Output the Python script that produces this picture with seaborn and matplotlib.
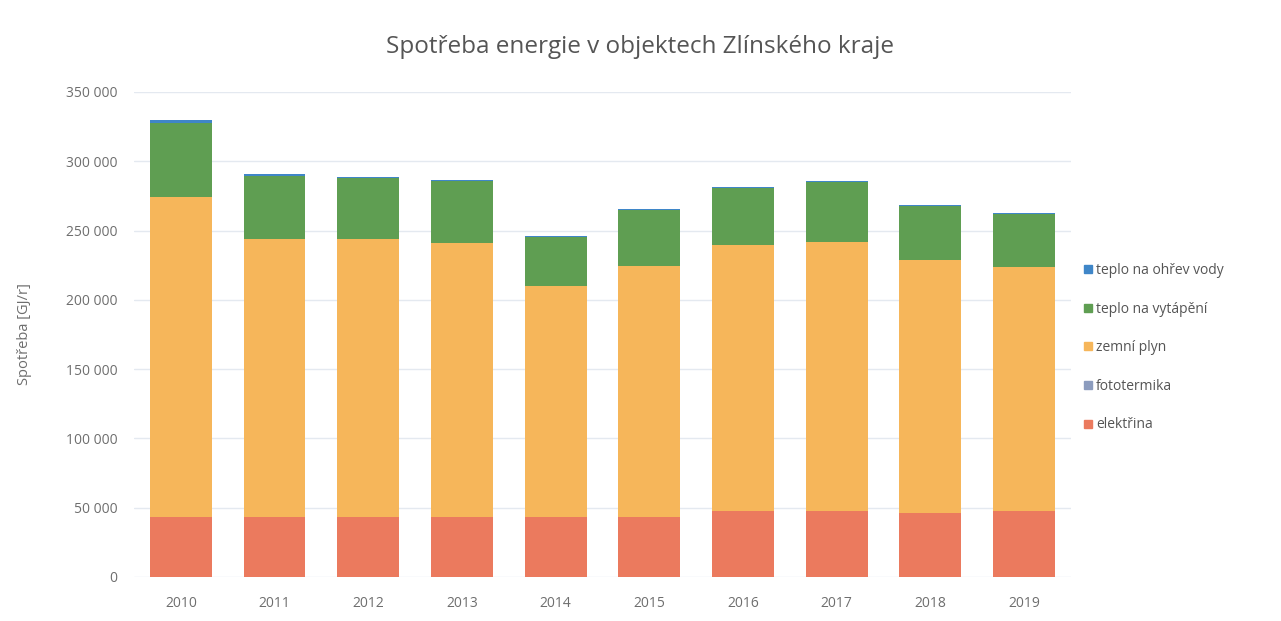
import numpy as np
import pandas as pd
import matplotlib
matplotlib.use("Agg")
import matplotlib.pyplot as plt
from matplotlib.lines import Line2D
from matplotlib.ticker import FuncFormatter
import seaborn as sns

# data (GJ/rok)
years = ["2010", "2011", "2012", "2013", "2014", "2015", "2016", "2017", "2018", "2019"]
elektrina = [43300, 43300, 43300, 43300, 43300, 43300, 47600, 47600, 46200, 47600]
fototermika = [300, 300, 300, 300, 300, 300, 300, 300, 300, 300]
zemni_plyn = [230600, 200300, 200300, 197400, 166400, 180800, 191600, 193800, 182200, 175800]
teplo_vytapeni = [53400, 45400, 44000, 44700, 35300, 40400, 41200, 43300, 39000, 38200]
teplo_ohrev = [2100, 1500, 900, 900, 900, 900, 900, 900, 900, 900]

series_names = ["elektřina", "fototermika", "zemní plyn", "teplo na vytápění", "teplo na ohřev vody"]
colors = ["#EB7A5E", "#8C9CBE", "#F6B65A", "#5F9E52", "#3F86C8"]

df = pd.DataFrame({
    "rok": years,
    "elektřina": elektrina,
    "fototermika": fototermika,
    "zemní plyn": zemni_plyn,
    "teplo na vytápění": teplo_vytapeni,
    "teplo na ohřev vody": teplo_ohrev,
})

sns.set_style("white")
plt.rcParams["font.family"] = ["Open Sans", "DejaVu Sans"]

fig = plt.figure(figsize=(12.81, 6.21), dpi=100)
ax = fig.add_axes([0.1046, 0.0709, 0.7314, 0.781])

# stacked bars: draw cumulative totals from the top layer down
cum = df[series_names].cumsum(axis=1)
for name, col in reversed(list(zip(series_names, colors))):
    sns.barplot(x=df["rok"], y=cum[name], color=col, width=0.66,
                saturation=1, linewidth=0, edgecolor="none", ax=ax, zorder=3)

ax.set_ylim(0, 350000)
ax.set_yticks(np.arange(0, 350001, 50000))
ax.yaxis.set_major_formatter(FuncFormatter(lambda v, p: f"{int(v):,}".replace(",", " ")))
ax.grid(axis="y", color="#E4E9F0", linewidth=1, zorder=0)
ax.set_axisbelow(True)
sns.despine(ax=ax, left=True, bottom=True)
ax.tick_params(axis="both", length=0, labelsize=10, labelcolor="#6E6E6E")
ax.tick_params(axis="y", pad=12)
ax.tick_params(axis="x", pad=14)
ax.set_xlabel("")
ax.set_ylabel("Spotřeba [GJ/r]", fontsize=10.5, color="#6E6E6E", labelpad=24)

fig.text(0.5, 0.925, "Spotřeba energie v objektech Zlínského kraje",
         ha="center", va="center", fontsize=17.5, color="#555555")

handles = [Line2D([], [], marker="s", linestyle="", markersize=6,
                  markerfacecolor=c, markeredgecolor=c)
           for c in reversed(colors)]
leg = fig.legend(handles, list(reversed(series_names)), loc="center left",
                 bbox_to_anchor=(0.834, 0.44), frameon=False, fontsize=10,
                 labelspacing=1.7, handletextpad=0.1, handlelength=1.0)
for t in leg.get_texts():
    t.set_color("#555555")

plt.savefig("out.png", dpi=100)
